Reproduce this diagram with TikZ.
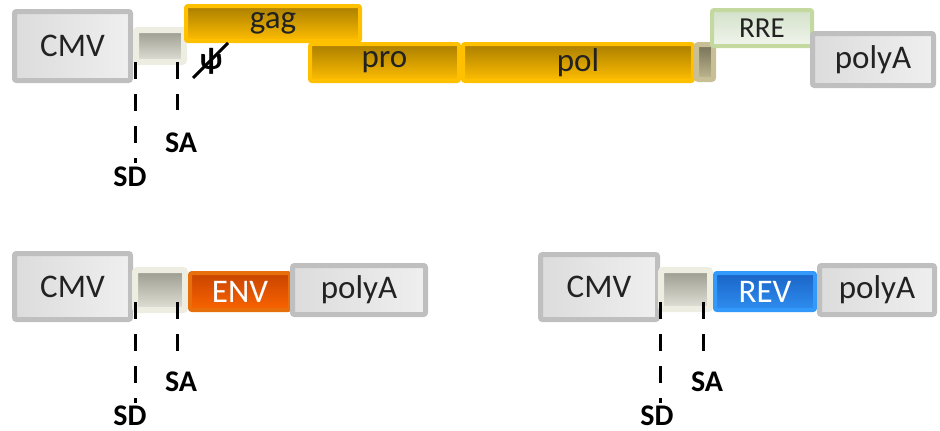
\documentclass[tikz,border=0pt]{standalone}
\usepackage{fontspec}
\setmainfont{Carlito}
\usetikzlibrary{calc}
\definecolor{grayB}{HTML}{BFBFBF}
\definecolor{grayL}{HTML}{DCDCDC}
\definecolor{grayR}{HTML}{EFEFEF}
\definecolor{splB}{HTML}{EEEDE2}
\definecolor{splT}{HTML}{9A9A8F}
\definecolor{splBo}{HTML}{E2E2D8}
\definecolor{goldB}{HTML}{FFC000}
\definecolor{goldT}{HTML}{AA7E00}
\definecolor{goldBo}{HTML}{FFBE00}
\definecolor{endB}{HTML}{C8BF96}
\definecolor{endT}{HTML}{767158}
\definecolor{endBo}{HTML}{C0B890}
\definecolor{rreB}{HTML}{C4D9A0}
\definecolor{rreT}{HTML}{D3E1CA}
\definecolor{rreBo}{HTML}{F1F5EC}
\definecolor{envB}{HTML}{E8700C}
\definecolor{envT}{HTML}{C84400}
\definecolor{envBo}{HTML}{FA6400}
\definecolor{revB}{HTML}{3399FA}
\definecolor{revT}{HTML}{1A64C6}
\definecolor{revBo}{HTML}{2E8EF0}
\definecolor{txt}{HTML}{222222}
\tikzset{
  el/.style={rounded corners=2pt, inner sep=0pt, text=txt,
    font=\fontsize{33}{37}\selectfont},
  graybox/.style={el, draw=grayB, line width=5pt, left color=grayL, right color=grayR},
  splbox/.style={el, draw=splB, line width=6pt, top color=splT, bottom color=splBo},
  goldbox/.style={el, draw=goldB, line width=4pt, top color=goldT, bottom color=goldBo},
  endbox/.style={el, draw=endB, line width=5pt, top color=endT, bottom color=endBo},
  rrebox/.style={el, draw=rreB, line width=4pt, top color=rreT, bottom color=rreBo,
    font=\fontsize{29}{33}\selectfont},
  envbox/.style={el, draw=envB, line width=4pt, top color=envT, bottom color=envBo, text=white},
  revbox/.style={el, draw=revB, line width=4pt, top color=revT, bottom color=revBo, text=white},
  lab/.style={inner sep=0pt, text=black, font=\fontsize{30}{34}\selectfont\bfseries},
  dline/.style={line width=3pt, dash pattern=on 17pt off 15pt}
}
\begin{document}
\begin{tikzpicture}[x=1pt,y=-1pt]
\useasboundingbox (0,0) rectangle (940,431);
% ---------- top row ----------
\node[graybox, minimum width=116, minimum height=69] (cmv1) at (72.5,46) {CMV};
\node[splbox, minimum width=48, minimum height=32] (spl1) at (160,46) {};
\node[goldbox, minimum width=149, minimum height=37] (pro) at (384.5,62.5) {pro};
\node[goldbox, minimum width=230, minimum height=37] (pol) at (578,62.5) {pol};
\node[goldbox, minimum width=174, minimum height=35] (gag) at (273,23.5) {gag};
\node[endbox, minimum width=17, minimum height=35] (endp) at (705,62) {};
\node[rrebox, minimum width=100, minimum height=36] (rre) at (762,28) {RRE};
\node[graybox, minimum width=121, minimum height=52] (polyA1) at (873,59.5) {polyA};
\node[inner sep=0pt, text=black, font=\fontsize{31}{34}\selectfont\bfseries] (psi) at (211,61) {ψ};
\draw[line width=3pt, black] ([shift={(-18,17)}]psi.center) -- ([shift={(17,-18)}]psi.center);
\node[lab] (sa1) at (181,143) {SA};
\node[lab] (sd1) at (130,177) {SD};
\coordinate (sd1a) at (135,62);
\coordinate (sd1b) at (135,163);
\coordinate (sa1a) at (177,62);
\coordinate (sa1b) at (177,110);
\draw[dline] (sd1a) -- (sd1b);
\draw[dline] (sa1a) -- (sa1b);
% ---------- bottom left ----------
\node[graybox, minimum width=116, minimum height=66] (cmv2) at (72.5,286.5) {CMV};
\node[splbox, minimum width=50, minimum height=40] (spl2) at (160,290) {};
\node[envbox, minimum width=100, minimum height=37] (env) at (240,291.5) {ENV};
\node[graybox, minimum width=133, minimum height=49] (polyA2) at (359,290) {polyA};
\node[lab] (sa2) at (181,382) {SA};
\node[lab] (sd2) at (130,415.5) {SD};
\coordinate (sd2a) at (135,302);
\coordinate (sd2b) at (135,403);
\coordinate (sa2a) at (177,302);
\coordinate (sa2b) at (177,351);
\draw[dline] (sd2a) -- (sd2b);
\draw[dline] (sa2a) -- (sa2b);
% ---------- bottom right ----------
\node[graybox, minimum width=117, minimum height=65] (cmv3) at (599,287) {CMV};
\node[splbox, minimum width=49, minimum height=39] (spl3) at (685.5,289.5) {};
\node[revbox, minimum width=100, minimum height=37] (rev) at (765,291.5) {REV};
\node[graybox, minimum width=115, minimum height=49] (polyA3) at (877,290) {polyA};
\node[lab] (sa3) at (707,382) {SA};
\node[lab] (sd3) at (657,415.5) {SD};
\coordinate (sd3a) at (660,302);
\coordinate (sd3b) at (660,403);
\coordinate (sa3a) at (703,302);
\coordinate (sa3b) at (703,351);
\draw[dline] (sd3a) -- (sd3b);
\draw[dline] (sa3a) -- (sa3b);
\end{tikzpicture}
\end{document}
